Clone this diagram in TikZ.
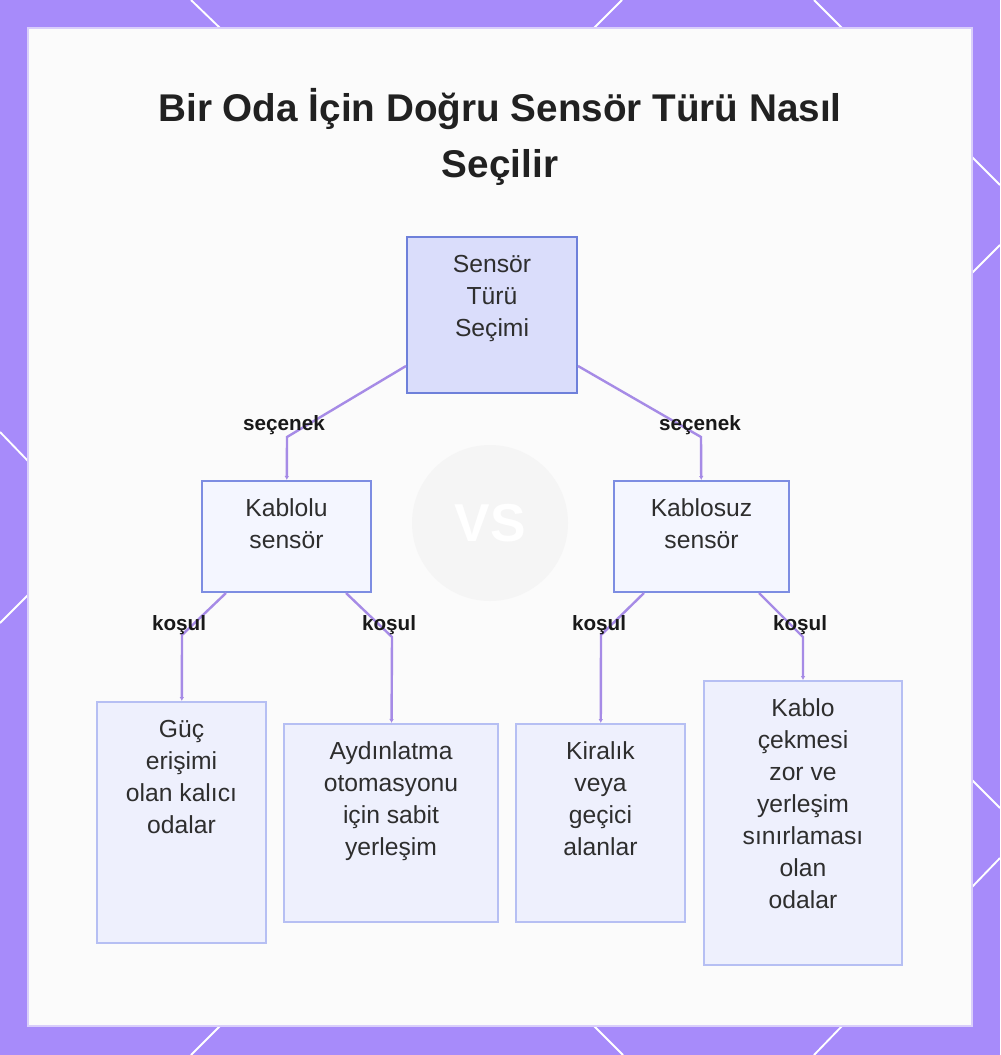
\documentclass[tikz,border=0pt]{standalone}
\usepackage{fontspec}
\setmainfont{Liberation Sans}
\usepackage{xcolor}
\usepackage{tikz}
\usetikzlibrary{arrows.meta}

\definecolor{framepurple}{HTML}{A78BFA}
\definecolor{panelbg}{HTML}{FBFBFB}
\definecolor{paneledge}{HTML}{D9CEFB}
\definecolor{linkcol}{HTML}{A68BE6}
\definecolor{rootfill}{HTML}{DADDFB}
\definecolor{rootdraw}{HTML}{6E80DA}
\definecolor{midfill}{HTML}{F4F6FF}
\definecolor{middraw}{HTML}{7D8DE2}
\definecolor{leaffill}{HTML}{EEF0FD}
\definecolor{leafdraw}{HTML}{B6BFF3}
\definecolor{inktext}{HTML}{2E2E2E}

% one reference pixel
\newlength\pxu
\setlength\pxu{0.75pt}
% box text, set from the top of the box
\newcommand{\boxtxt}[3]{\parbox[c][#2\pxu][t]{#1\pxu}{\centering\rule{0pt}{26.5pt}#3}}

\begin{document}
\begin{tikzpicture}[x=0.75pt, y=-0.75pt,
    every node/.style={font=\fontsize{18.5}{24}\selectfont, text=inktext},
    rootbox/.style={draw=rootdraw, fill=rootfill, line width=1.5pt, inner sep=0pt},
    midbox/.style={draw=middraw, fill=midfill, line width=1.5pt, inner sep=0pt},
    leafbox/.style={draw=leafdraw, fill=leaffill, line width=1.5pt, inner sep=0pt},
    link/.style={draw=linkcol, line width=1.8pt, -{Latex[length=3pt,width=3.5pt]}},
    lbl/.style={font=\bfseries\fontsize{15.5}{18}\selectfont, text=black!90},
    title/.style={font=\bfseries\fontsize{29}{42}\selectfont, text=black!87, align=center}]
        \useasboundingbox (0,0) rectangle (1000,1055);

        % Frame and panel
        \fill[framepurple] (0,0) rectangle (1000,1055);
        \foreach \xa/\ya/\xb/\yb in {191/0/220/28, 622/0/594/28, 814/0/842/28,
                                    220/1026/191/1055, 594/1026/623/1055, 842/1026/814/1055,
                                    0/432/28/461, 28/595/0/623,
                                    972/157/1000/185, 1000/245/972/273,
                                    972/780/1000/808, 1000/858/972/887} {
            \draw[white, line width=1.4pt] (\xa,\ya) -- (\xb,\yb);
        }
        \draw[fill=panelbg, draw=paneledge, line width=1pt] (28,28) rectangle (972,1026);

        % Faint background mark
        \node[circle, fill=black!4, minimum size=117pt, inner sep=0pt,
              font=\bfseries\fontsize{40}{40}\selectfont, text=white] (vs) at (490,523) {VS};

        % Title
        \node[title] (title) at (500,137) {Bir Oda İçin Doğru Sensör Türü Nasıl\\Seçilir};

        % Boxes
        \node[rootbox] (root) at (492,315) {\boxtxt{170}{156}{Sensör\\Türü\\Seçimi}};
        \node[midbox] (wired) at (286.5,536.5) {\boxtxt{169}{111}{Kablolu\\sensör}};
        \node[midbox] (wireless) at (701.5,536.5) {\boxtxt{175}{111}{Kablosuz\\sensör}};
        \node[leafbox] (fixed) at (181.5,822.5) {\boxtxt{169}{241}{Güç\\erişimi\\olan kalıcı\\odalar}};
        \node[leafbox] (light) at (391,823) {\boxtxt{214}{198}{Aydınlatma\\otomasyonu\\için sabit\\yerleşim}};
        \node[leafbox] (rent) at (600.5,823) {\boxtxt{169}{198}{Kiralık\\veya\\geçici\\alanlar}};
        \node[leafbox] (hard) at (803,823) {\boxtxt{198}{284}{Kablo\\çekmesi\\zor ve\\yerleşim\\sınırlaması\\olan\\odalar}};

        % Bends
        \coordinate (b1) at (287,437);
        \coordinate (b2) at (701,437);
        \coordinate (b3) at (182,635);
        \coordinate (b4) at (392,637);
        \coordinate (b5) at (601,635);
        \coordinate (b6) at (803,637);

        % Connectors
        \draw[link] ([yshift=21pt]root.south west) -- (b1) -- (wired);
        \draw[link] ([yshift=21pt]root.south east) -- (b2) -- (wireless);
        \draw[link] ([xshift=18.75pt]wired.south west) -- (b3) -- (fixed);
        \draw[link] ([xshift=-19.5pt]wired.south east) -- (b4) -- (light);
        \draw[link] ([xshift=23.25pt]wireless.south west) -- (b5) -- (rent);
        \draw[link] ([xshift=-23.25pt]wireless.south east) -- (b6) -- (hard);

        % Connector labels
        \node[lbl] (opt1) at (284,425) {seçenek};
        \node[lbl] (opt2) at (700,425) {seçenek};
        \node[lbl] (cond1) at (179,625) {koşul};
        \node[lbl] (cond2) at (389,625) {koşul};
        \node[lbl] (cond3) at (599,625) {koşul};
        \node[lbl] (cond4) at (800,625) {koşul};
\end{tikzpicture}
\end{document}
